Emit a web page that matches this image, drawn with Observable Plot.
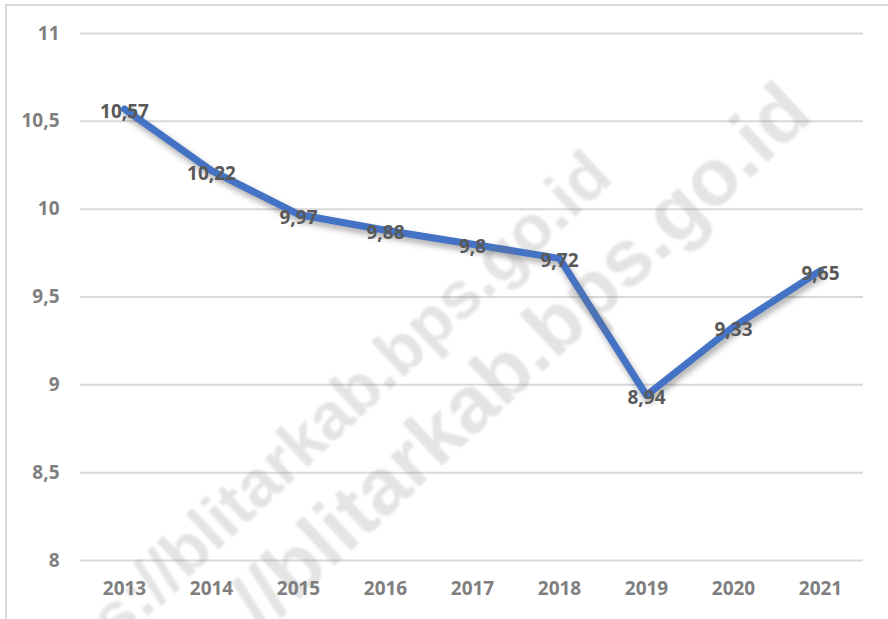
<!DOCTYPE html>
<html>
<head>
<meta charset="utf-8">
<script src="https://cdn.jsdelivr.net/npm/d3@7"></script>
<script src="https://cdn.jsdelivr.net/npm/@observablehq/plot@0.6"></script>
<style>
  html, body { margin: 0; padding: 0; background: #fff; }
  #wrap { position: relative; width: 888px; height: 619px; overflow: hidden; }
  #frame { position: absolute; left: 5px; top: 4px; width: 900px; height: 700px;
           border-top: 2px solid #d9d9d9; border-left: 2px solid #d9d9d9; pointer-events: none; }
  #wm { position: absolute; left: 0; top: 0; pointer-events: none; }
</style>
</head>
<body>
<div id="wrap">
  <div id="chart"></div>
  <div id="frame"></div>
  <svg id="wm" width="888" height="619"></svg>
</div>
<script>
const years = ["2013","2014","2015","2016","2017","2018","2019","2020","2021"];
const values = [10.57, 10.22, 9.97, 9.88, 9.8, 9.72, 8.94, 9.33, 9.65];
const labels = ["10,57","10,22","9,97","9,88","9,8","9,72","8,94","9,33","9,65"];
const yTicks = [8, 8.5, 9, 9.5, 10, 10.5, 11];
const yTickLabels = ["8","8,5","9","9,5","10","10,5","11"];
const watermarks = ["s://blitarkab.bps.go.id", "//blitarkab.bps.go.id"];

const data = years.map((y, i) => ({year: y, value: values[i], label: labels[i]}));
const font = "'Open Sans', Lato, sans-serif";

const chart = Plot.plot({
  width: 888,
  height: 619,
  marginTop: 33,
  marginBottom: 59,
  marginLeft: 80,
  marginRight: 25,
  style: {fontFamily: font, fontSize: "19px", fontWeight: "bold", color: "#7f7f7f", background: "#fff"},
  x: {type: "point", domain: years, padding: 0.5, label: null, tickSize: 0, tickPadding: 21},
  y: {domain: [8, 11], ticks: yTicks, tickFormat: d => yTickLabels[yTicks.indexOf(d)], label: null, tickSize: 0, tickPadding: 21},
  marks: [
    Plot.ruleY(yTicks, {stroke: "#d9d9d9", strokeWidth: 2}),
    Plot.line(data, {x: "year", y: "value", stroke: "#4472C4", strokeWidth: 7, strokeLinejoin: "round", strokeLinecap: "round"}),
    Plot.text(data, {x: "year", y: "value", text: "label", fill: "#595959", fontSize: 19, fontWeight: "bold", dy: 3})
  ]
});
document.getElementById("chart").appendChild(chart);

// shadow on the line
const lineG = chart.querySelector('g[aria-label="line"]');
if (lineG) lineG.style.filter = "drop-shadow(2px 4px 3px rgba(0,0,0,0.35))";

// watermark text
const wm = d3.select("#wm");
[[615, 180, 66, 0], [815, 118, 80, 1]].forEach(([x, y, fs, i]) => {
  wm.append("text")
    .attr("transform", `translate(${x},${y}) rotate(-43)`)
    .attr("text-anchor", "end")
    .attr("font-family", "'Liberation Sans', Arial, sans-serif")
    .attr("font-weight", "bold")
    .attr("font-size", fs)
    .attr("fill", "rgba(120,120,120,0.2)")
    .style("filter", "blur(1.2px)")
    .text(watermarks[i]);
});
</script>
</body>
</html>
